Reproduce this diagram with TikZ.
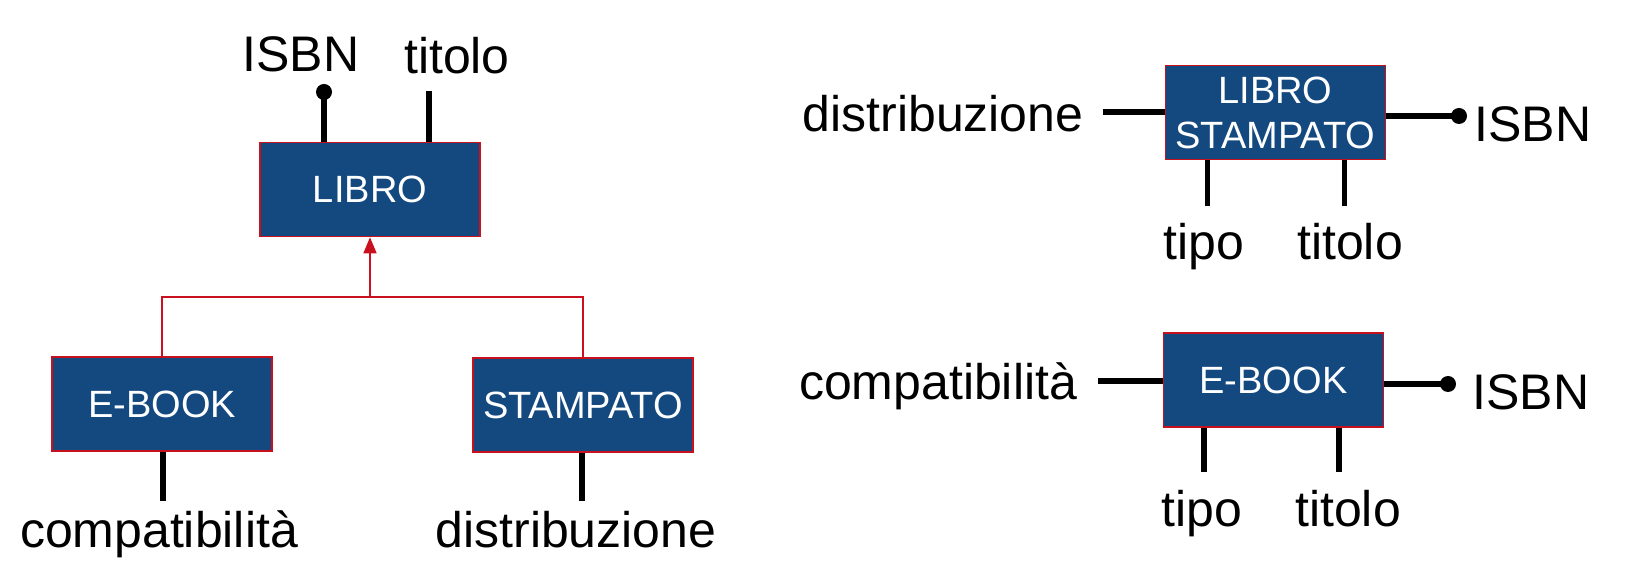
\documentclass[tikz,border=0pt]{standalone}
\usepackage{fontspec}
\setmainfont{Liberation Sans}
\usetikzlibrary{arrows.meta}
\definecolor{boxblue}{RGB}{20,73,128}
\definecolor{boxred}{RGB}{200,16,30}
\begin{document}
\begin{tikzpicture}[x=0.5pt,y=-0.5pt,
  entity/.style={draw=boxred, line width=0.8pt, fill=boxblue, text=white,
    font=\fontsize{19}{22.5}\selectfont, minimum width=110pt, minimum height=47pt,
    inner sep=0pt, align=center},
  attr/.style={font=\fontsize{25}{30}\selectfont, anchor=base, inner sep=0pt},
  stem/.style={line width=2.8pt},
  gen/.style={draw=boxred, line width=0.8pt},
  keydot/.style={fill=black, circle, inner sep=0pt, minimum size=8pt}]
\useasboundingbox (0,0) rectangle (1628,576);

% ---------- left: hierarchy ----------
\node[entity] (LIBRO) at (370,189.5) {LIBRO};
\node[entity] (EB) at (162,404) {E-BOOK};
\node[entity] (ST) at (583,405) {STAMPATO};

\coordinate (j) at (370,297);
\draw[gen] (EB.north) |- (j) -| (ST.north);
\draw[gen,-{Triangle[length=8pt,width=6.5pt]}] (j) -- (LIBRO.south);

\node[keydot] (d1) at (324,92) {};
\draw[stem] (d1.center) -- (d1 |- LIBRO.north);
\coordinate (t1) at (429,91);
\draw[stem] (t1) -- (t1 |- LIBRO.north);
\node[attr] (isbn1) at (301,72) {ISBN};
\node[attr] (tit1) at (457,74) {titolo};

\coordinate (c1) at (163,501);
\draw[stem] (c1 |- EB.south) -- (c1);
\node[attr] (comp1) at (159,548) {compatibilità};
\coordinate (s1) at (582,501);
\draw[stem] (s1 |- ST.south) -- (s1);
\node[attr] (dist1) at (576,548) {distribuzione};

% ---------- right: LIBRO STAMPATO ----------
\node[entity] (LS) at (1275.5,112.5) {LIBRO\\STAMPATO};
\coordinate (ls1) at (1103,112);
\draw[stem] (ls1) -- (ls1 -| LS.west);
\node[attr] (dist2) at (943,132) {distribuzione};
\node[keydot] (d2) at (1459,116) {};
\draw[stem] (LS.east |- d2) -- (d2.center);
\node[attr] (isbn2) at (1533,142) {ISBN};
\coordinate (ls2) at (1207.5,205.6);
\draw[stem] (ls2 |- LS.south) -- (ls2);
\coordinate (ls3) at (1344.6,205.6);
\draw[stem] (ls3 |- LS.south) -- (ls3);
\node[attr] (tipo2) at (1204,260) {tipo};
\node[attr] (tit2) at (1350,260) {titolo};

% ---------- right: E-BOOK ----------
\node[entity] (EB2) at (1273.5,380) {E-BOOK};
\coordinate (eb1) at (1098,381);
\draw[stem] (eb1) -- (eb1 -| EB2.west);
\node[attr] (comp2) at (938,400) {compatibilità};
\node[keydot] (d3) at (1448,384) {};
\draw[stem] (EB2.east |- d3) -- (d3.center);
\node[attr] (isbn3) at (1531,410) {ISBN};
\coordinate (eb2) at (1204,472);
\draw[stem] (eb2 |- EB2.south) -- (eb2);
\coordinate (eb3) at (1339,472);
\draw[stem] (eb3 |- EB2.south) -- (eb3);
\node[attr] (tipo3) at (1202,527) {tipo};
\node[attr] (tit3) at (1348,527) {titolo};
\end{tikzpicture}
\end{document}
